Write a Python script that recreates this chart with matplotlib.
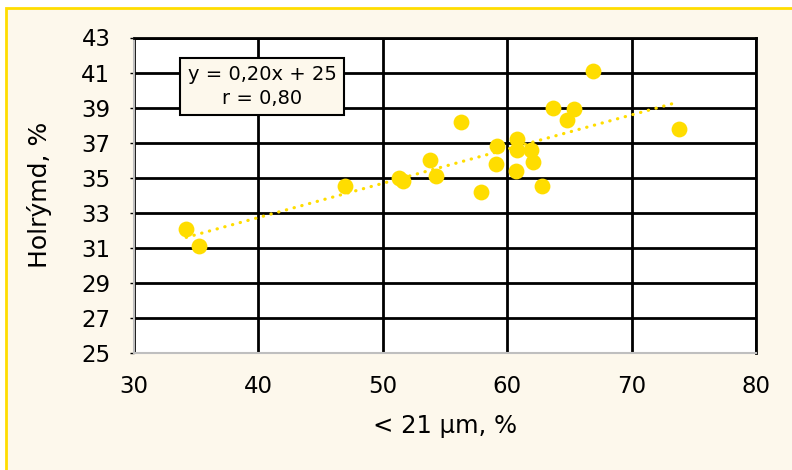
import matplotlib
matplotlib.use("Agg")
import matplotlib.pyplot as plt
from matplotlib.patches import Rectangle
import numpy as np

# < 21 um, %  vs  Holrymd, %
fine = [34.2, 35.2, 47.0, 51.3, 51.6, 53.8, 54.3, 56.3, 57.9, 59.2, 59.1,
        60.8, 60.8, 60.7, 61.9, 62.1, 62.8, 63.7, 64.8, 65.4, 66.9, 73.8]
voids = [32.1, 31.1, 34.5, 35.0, 34.8, 36.0, 35.1, 38.2, 34.2, 36.8, 35.8,
         37.2, 36.6, 35.4, 36.6, 35.9, 34.5, 39.0, 38.3, 38.9, 41.1, 37.8]
eq_text = "y = 0,20x + 25\nr = 0,80"
xticks = [30, 40, 50, 60, 70, 80]
yticks = [25, 27, 29, 31, 33, 35, 37, 39, 41, 43]

cream = "#fdf8ec"
yellow = "#ffdd00"

fig = plt.figure(figsize=(7.92, 4.70), dpi=100, facecolor="white")
fig.add_artist(Rectangle((6/792, -0.05), 1.1, 1.05 - 8/470, transform=fig.transFigure,
                         facecolor=cream, edgecolor=yellow, linewidth=2, zorder=-10))

ax = fig.add_axes([134/792, 1 - 353/470, (756-134)/792, (353-37.5)/470])
ax.set_facecolor("white")

ax.scatter(fine, voids, s=130, color=yellow, zorder=3, linewidths=0)

# linear trend line
k, b = np.polyfit(fine, voids, 1)
xs = np.array([min(fine), max(fine)])
ax.plot(xs, k*xs + b, color=yellow, linewidth=2.3, linestyle=(0, (0.1, 2.4)),
        dash_capstyle="round", zorder=2)

ax.set_xlim(30, 80)
ax.set_ylim(25, 43)
ax.set_xticks(xticks)
ax.set_yticks(yticks)
ax.grid(True, color="black", linewidth=2.0)
ax.set_axisbelow(True)
ax.tick_params(axis="x", length=0, labelsize=16.5, pad=15.5, colors="black")
ax.tick_params(axis="y", length=3, width=1, direction="out", labelsize=16.5,
               pad=14, colors="black")

for side in ["left", "bottom"]:
    ax.spines[side].set_color("#bfbfbf")
    ax.spines[side].set_linewidth(1.5)
for side in ["top", "right"]:
    ax.spines[side].set_color("black")
    ax.spines[side].set_linewidth(2.0)

ax.set_xlabel("< 21 µm, %", fontsize=17.5, labelpad=12)
ax.set_ylabel("Holrýmd, %", fontsize=18, labelpad=21)

ax.text(40.3, 40.2, eq_text, fontsize=14, ha="center", va="center", linespacing=1.3,
        zorder=5, bbox=dict(boxstyle="square,pad=0.38", facecolor=cream,
                            edgecolor="black", linewidth=1.5))

fig.savefig("out.png", dpi=100, facecolor=fig.get_facecolor())
